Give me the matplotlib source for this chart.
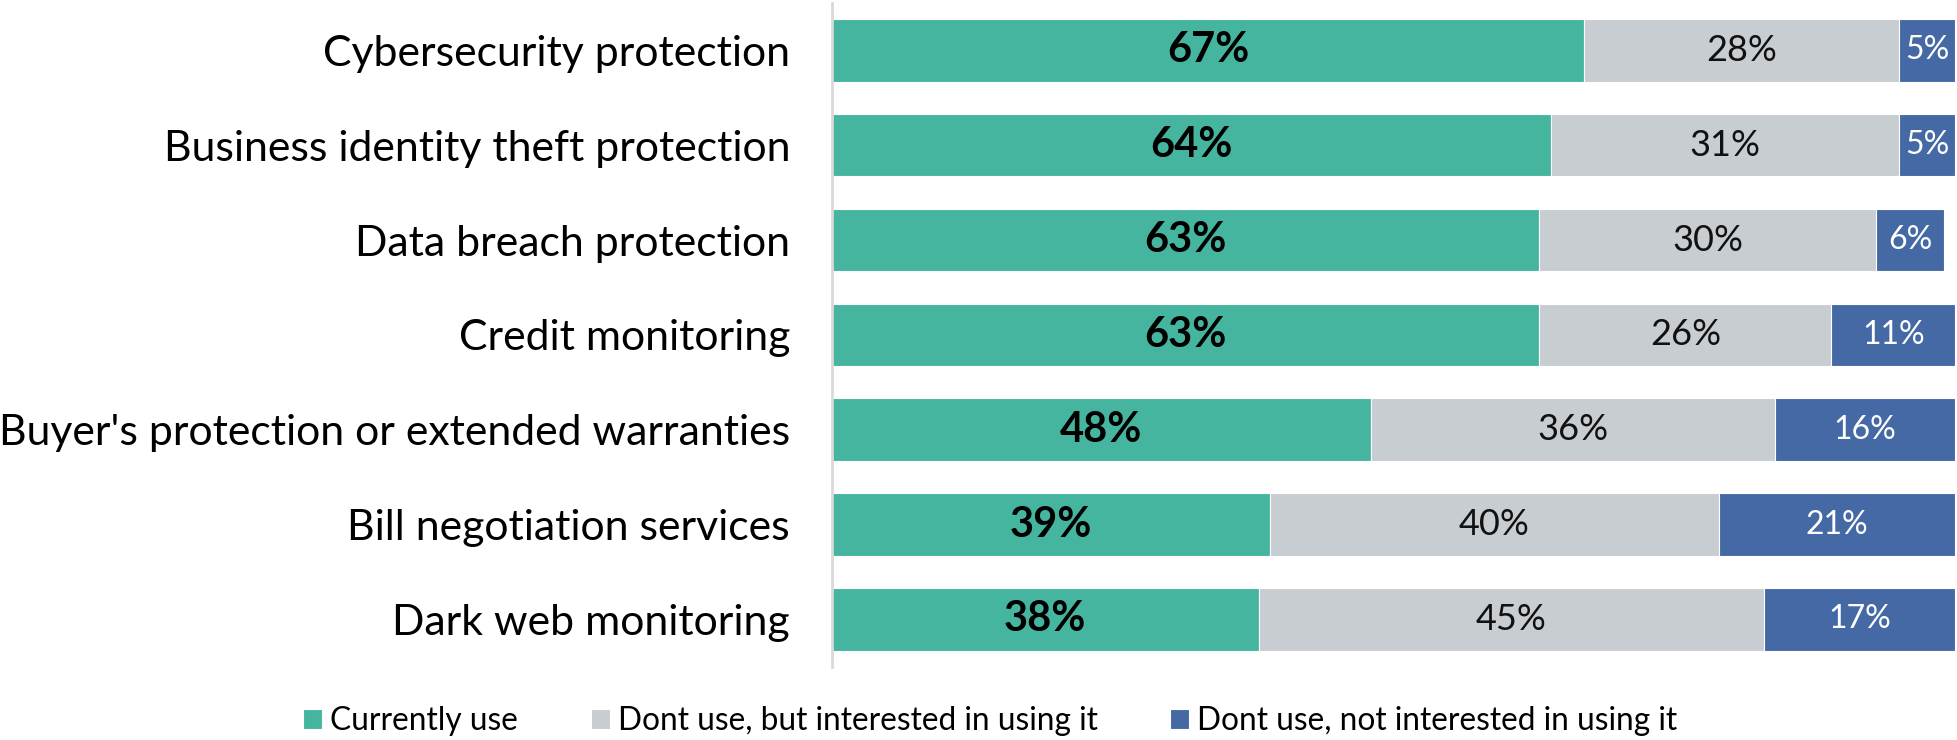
import matplotlib
matplotlib.use("Agg")
import matplotlib.pyplot as plt
import numpy as np

plt.rcParams['font.family'] = ['Lato', 'DejaVu Sans']

categories = ["Cybersecurity protection",
              "Business identity theft protection",
              "Data breach protection",
              "Credit monitoring",
              "Buyer's protection or extended warranties",
              "Bill negotiation services",
              "Dark web monitoring"]
currently_use = [67, 64, 63, 63, 48, 39, 38]
interested = [28, 31, 30, 26, 36, 40, 45]
not_interested = [5, 5, 6, 11, 16, 21, 17]

series_names = ["Currently use",
                "Dont use, but interested in using it",
                "Dont use, not interested in using it"]
colors = ["#46B5A0", "#C8CDD1", "#4469A5"]

fig = plt.figure(figsize=(19.57, 7.40), dpi=100)
ax = fig.add_axes([0.425, 0.099, 0.574, 0.897])

y = np.arange(len(categories))
left = np.zeros(len(categories))
label_styles = [dict(fontsize=30, fontweight='bold', color='black'),
                dict(fontsize=26, color='#111111'),
                dict(fontsize=23, color='white')]

for vals, name, col, style in zip([currently_use, interested, not_interested],
                                  series_names, colors, label_styles):
    vals = np.array(vals, dtype=float)
    bars = ax.barh(y, vals, left=left, height=0.66, color=col,
                   edgecolor='white', linewidth=0.8, label=name)
    ax.bar_label(bars, labels=[f"{int(v)}%" for v in vals],
                 label_type='center', **style)
    left += vals

ax.set_ylim(len(categories) - 0.5, -0.5)
ax.set_xlim(0, 100)
ax.set_yticks(y)
ax.set_yticklabels(categories, fontsize=30.8)
ax.tick_params(axis='y', length=0, pad=30)
ax.set_xticks([])
for side in ['top', 'right', 'bottom']:
    ax.spines[side].set_visible(False)
ax.spines['left'].set_color('#D9D9D9')
ax.spines['left'].set_linewidth(2)

fig.legend(loc='center', bbox_to_anchor=(0.506, 0.026), ncol=3, frameon=False,
           fontsize=22.8, handlelength=0.6, handleheight=0.6,
           handletextpad=0.25, columnspacing=2.3)

fig.savefig("out.png", dpi=100)
